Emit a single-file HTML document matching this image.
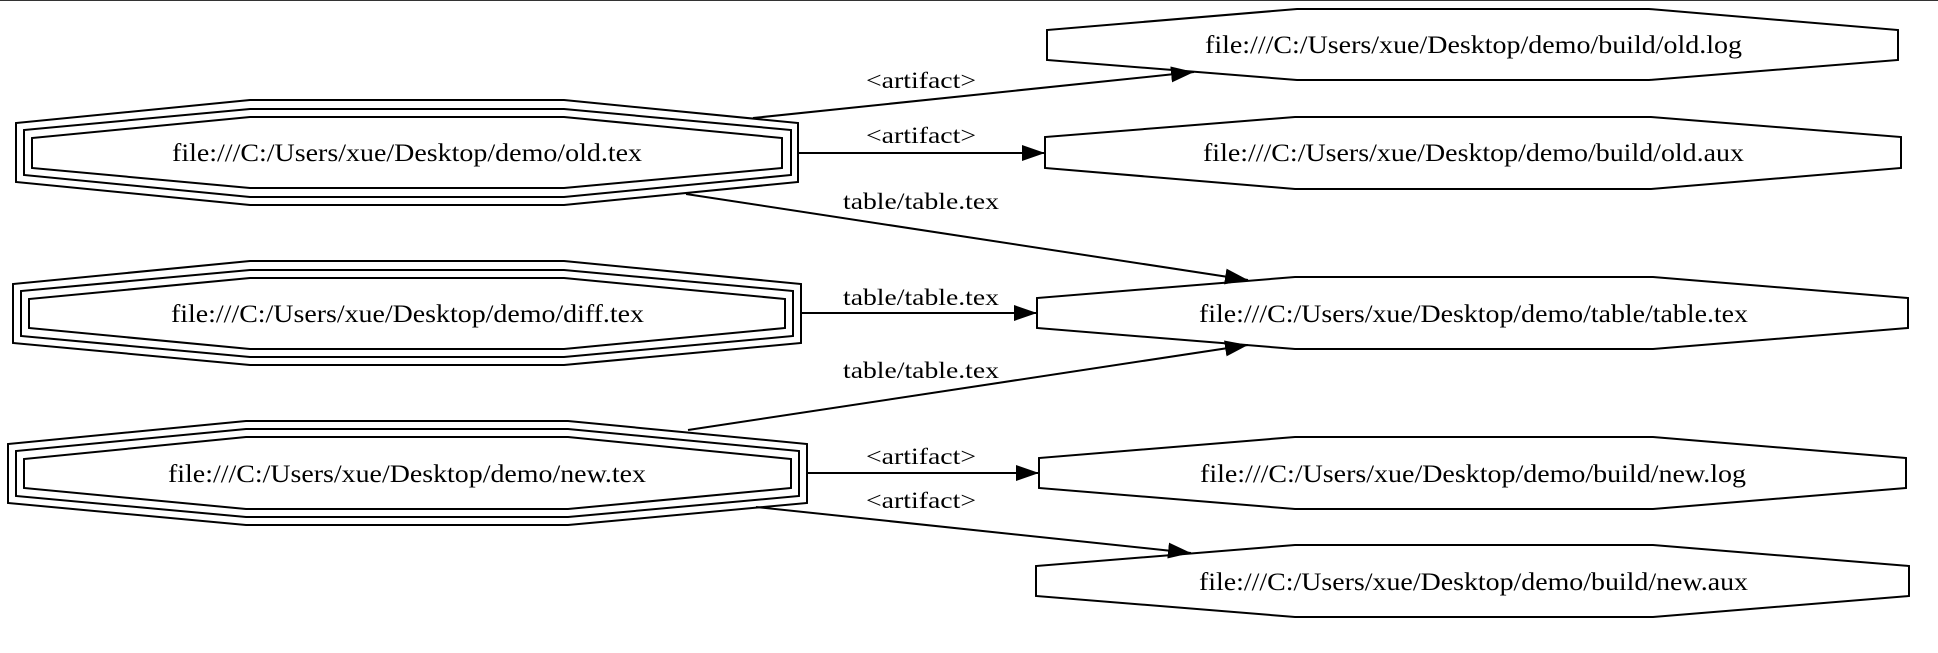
<!DOCTYPE html>
<html><head><meta charset="utf-8"><style>
html,body{margin:0;padding:0;background:#fff;}
svg{display:block;}
svg text{font-family:"Liberation Serif","Times New Roman",Times,serif;fill:#000;}
</style></head><body>
<svg width="1938" height="653" viewBox="0 0 1938 653" xmlns="http://www.w3.org/2000/svg" font-family="'Liberation Serif', 'Times New Roman', serif">
<defs>
<marker id="ah" markerUnits="userSpaceOnUse" markerWidth="24" markerHeight="18" refX="23" refY="8" orient="auto">
<path d="M0,0 L23,8 L0,16 Z" fill="#000"/>
</marker>
</defs>
<line x1="0" y1="0.5" x2="1938" y2="0.5" stroke="#333" stroke-width="1"/>
<g fill="none" stroke="#000" stroke-width="2">
<polygon points="250,100 564,100 798,123 798,182 564,205 250,205 16,182 16,123"/>
<polygon points="250,109 564,109 791,130 791,175 564,197 250,197 24,175 24,130"/>
<polygon points="250,117 564,117 782,138 782,168 564,188 250,188 32,168 32,138"/>
<polygon points="250,261 564,261 801,284 801,343 564,365 250,365 13,343 13,284"/>
<polygon points="250,270 564,270 793,291 793,336 564,357 250,357 21,336 21,291"/>
<polygon points="250,278 564,278 785,299 785,328 564,349 250,349 29,328 29,299"/>
<polygon points="246,421 568,421 807,444 807,503 568,525 246,525 8,503 8,444"/>
<polygon points="246,429 568,429 799,451 799,496 568,517 246,517 16,496 16,451"/>
<polygon points="246,437 568,437 791,459 791,488 568,509 246,509 24,488 24,459"/>
<polygon points="1297,9 1649,9 1898,30 1898,60 1649,80 1297,80 1047,60 1047,30"/>
<polygon points="1295,117 1651,117 1901,137 1901,168 1651,189 1295,189 1045,168 1045,137"/>
<polygon points="1295,277 1653,277 1908,298 1908,328 1653,349 1295,349 1037,328 1037,298"/>
<polygon points="1295,437 1653,437 1906,458 1906,488 1653,509 1295,509 1039,488 1039,458"/>
<polygon points="1295,545 1653,545 1909,566 1909,596 1653,617 1295,617 1036,596 1036,566"/>
<line x1="753" y1="118" x2="1194" y2="72" marker-end="url(#ah)"/>
<line x1="798" y1="153" x2="1045" y2="153" marker-end="url(#ah)"/>
<line x1="686" y1="194" x2="1248" y2="280" marker-end="url(#ah)"/>
<line x1="801" y1="313" x2="1037" y2="313" marker-end="url(#ah)"/>
<line x1="688" y1="430" x2="1248" y2="345" marker-end="url(#ah)"/>
<line x1="807" y1="473" x2="1039" y2="473" marker-end="url(#ah)"/>
<line x1="756" y1="507" x2="1191" y2="553" marker-end="url(#ah)"/>
</g>
<g font-size="25">
<text x="172" y="161" textLength="470" lengthAdjust="spacingAndGlyphs">file:///C:/Users/xue/Desktop/demo/old.tex</text>
<text x="171" y="322" textLength="473" lengthAdjust="spacingAndGlyphs">file:///C:/Users/xue/Desktop/demo/diff.tex</text>
<text x="168" y="482" textLength="478" lengthAdjust="spacingAndGlyphs">file:///C:/Users/xue/Desktop/demo/new.tex</text>
<text x="1205" y="53" textLength="537" lengthAdjust="spacingAndGlyphs">file:///C:/Users/xue/Desktop/demo/build/old.log</text>
<text x="1203" y="161" textLength="541" lengthAdjust="spacingAndGlyphs">file:///C:/Users/xue/Desktop/demo/build/old.aux</text>
<text x="1199" y="322" textLength="549" lengthAdjust="spacingAndGlyphs">file:///C:/Users/xue/Desktop/demo/table/table.tex</text>
<text x="1200" y="482" textLength="546" lengthAdjust="spacingAndGlyphs">file:///C:/Users/xue/Desktop/demo/build/new.log</text>
<text x="1199" y="590" textLength="549" lengthAdjust="spacingAndGlyphs">file:///C:/Users/xue/Desktop/demo/build/new.aux</text>
</g>
<g font-size="23">
<text x="866" y="88" textLength="110" lengthAdjust="spacingAndGlyphs">&lt;artifact&gt;</text>
<text x="866" y="143" textLength="110" lengthAdjust="spacingAndGlyphs">&lt;artifact&gt;</text>
<text x="843" y="209" textLength="156" lengthAdjust="spacingAndGlyphs">table/table.tex</text>
<text x="843" y="305" textLength="156" lengthAdjust="spacingAndGlyphs">table/table.tex</text>
<text x="843" y="378" textLength="156" lengthAdjust="spacingAndGlyphs">table/table.tex</text>
<text x="866" y="464" textLength="110" lengthAdjust="spacingAndGlyphs">&lt;artifact&gt;</text>
<text x="866" y="508" textLength="110" lengthAdjust="spacingAndGlyphs">&lt;artifact&gt;</text>
</g>
</svg>
</body></html>
